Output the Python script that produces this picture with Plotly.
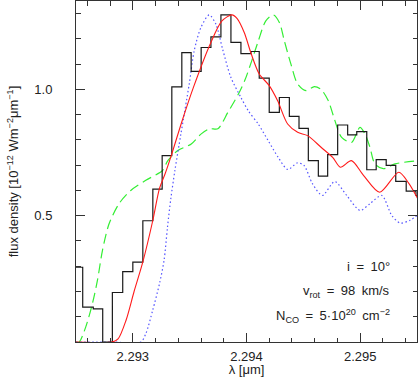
import plotly.graph_objects as go

# ----------------------------------------------------------
# DATA
# ----------------------------------------------------------

# observed spectrum: bin left edges [micron] and flux [1e-12 W m^-2 um^-1]
obs_edges = [
    2.292472, 2.292559, 2.292652, 2.292735, 2.292820, 2.292911,
    2.293000, 2.293088, 2.293176, 2.293258, 2.293343, 2.293431,
    2.293513, 2.293601, 2.293687, 2.293775, 2.293863, 2.293951,
    2.294039, 2.294112, 2.294200, 2.294289, 2.294377, 2.294462,
    2.294544, 2.294632, 2.294714, 2.294802, 2.294890, 2.294970,
    2.295058, 2.295141, 2.295229, 2.295313, 2.295405, 2.295491,
    2.295580,
]
obs_flux = [
    0.296, 0.138, 0.131, 0.000, 0.196, 0.279,
    0.316, 0.480, 0.605, 0.738, 1.010, 1.146,
    1.071, 1.166, 1.208, 1.295, 1.186, 1.142,
    1.150, 1.045, 0.909, 0.968, 0.893, 0.846,
    0.718, 0.657, 0.742, 0.859, 0.820, 0.833,
    0.682, 0.722, 0.699, 0.636, 0.597, 0.580,
    0.580,
]

# model, i = 10 deg (red, solid)
red_wave = [
    2.292500, 2.292817, 2.292870, 2.292941, 2.293011, 2.293088,
    2.293176, 2.293234, 2.293284, 2.293343, 2.293434, 2.293533,
    2.293681, 2.293784, 2.293872, 2.293918, 2.293980, 2.294042,
    2.294112, 2.294200, 2.294274, 2.294362, 2.294450, 2.294538,
    2.294656, 2.294758, 2.294826, 2.294923, 2.295029, 2.295172,
    2.295340, 2.295425, 2.295507,
]
red_flux = [
    0.000, 0.000, 0.012, 0.087, 0.200, 0.317,
    0.482, 0.607, 0.666, 0.745, 0.876, 1.008,
    1.180, 1.271, 1.295, 1.280, 1.225, 1.140,
    1.061, 1.015, 0.955, 0.863, 0.830, 0.817,
    0.771, 0.731, 0.692, 0.718, 0.660, 0.593,
    0.672, 0.630, 0.567,
]

# comparison model (green, dashed)
green_wave = [
    2.292500, 2.292528, 2.292586, 2.292645, 2.292689, 2.292733,
    2.292791, 2.292879, 2.292982, 2.293114, 2.293261, 2.293308,
    2.293396, 2.293514, 2.293602, 2.293675, 2.293748, 2.293836,
    2.293929, 2.293987, 2.294046, 2.294104, 2.294170, 2.294236,
    2.294289, 2.294333, 2.294391, 2.294450, 2.294523, 2.294597,
    2.294656, 2.294720, 2.294764, 2.294837, 2.294925, 2.294998,
    2.295042, 2.295086, 2.295130, 2.295204, 2.295306, 2.295510,
]
green_flux = [
    0.000, 0.000, 0.060, 0.153, 0.245, 0.363,
    0.468, 0.548, 0.600, 0.640, 0.679, 0.718,
    0.758, 0.784, 0.824, 0.844, 0.844, 0.909,
    0.982, 1.038, 1.113, 1.192, 1.271, 1.295,
    1.265, 1.192, 1.100, 1.021, 0.995, 1.011,
    1.000, 0.955, 0.896, 0.810, 0.790, 0.850,
    0.824, 0.771, 0.705, 0.686, 0.705, 0.718,
]

# comparison model (blue, dotted)
blue_wave = [
    2.292500, 2.292817, 2.293070, 2.293115, 2.293175, 2.293235,
    2.293275, 2.293305, 2.293334, 2.293370, 2.293423, 2.293496,
    2.293540, 2.293599, 2.293672, 2.293731, 2.293790, 2.293863,
    2.293951, 2.294015, 2.294103, 2.294191, 2.294279, 2.294363,
    2.294448, 2.294506, 2.294580, 2.294668, 2.294776, 2.294882,
    2.294999, 2.295087, 2.295190, 2.295278, 2.295351, 2.295439,
    2.295518,
]
blue_flux = [
    0.000, 0.000, 0.000, 0.034, 0.126, 0.232,
    0.324, 0.455, 0.567, 0.679, 0.824, 1.021,
    1.153, 1.245, 1.295, 1.258, 1.159, 1.047,
    0.968, 0.916, 0.863, 0.797, 0.731, 0.683,
    0.709, 0.699, 0.627, 0.580, 0.635, 0.580,
    0.521, 0.548, 0.580, 0.501, 0.471, 0.482,
    0.508,
]

x_ticks = [2.293, 2.294, 2.295]
x_tick_text = ["2.293", "2.294", "2.295"]
y_ticks = [0.5, 1.0]
y_tick_text = ["0.5", "1.0"]

param_lines = [
    "i\u2002=\u200210°",
    "v<sub>rot</sub>\u2002=\u200298\u2002km/s",
    "N<sub>CO</sub>\u2002=\u20025·10<sup>20</sup>\u2002cm<sup>−2</sup>",
]
param_y = [0.222, 0.148, 0.077]

FONT = "Liberation Sans, Arial, Helvetica, sans-serif"
INK = "#222222"

# ----------------------------------------------------------
# FIGURE
# ----------------------------------------------------------

fig = go.Figure()

fig.add_trace(
    go.Scatter(
        x=green_wave,
        y=green_flux,
        mode="lines",
        line=dict(color="#33ee33", width=1.2, dash="10px,5px", shape="spline", smoothing=0.8),
    )
)

fig.add_trace(
    go.Scatter(
        x=blue_wave,
        y=blue_flux,
        mode="lines",
        line=dict(color="#5555ff", width=1.2, dash="1.5px,2.5px", shape="spline", smoothing=0.8),
    )
)

fig.add_trace(
    go.Scatter(
        x=obs_edges,
        y=obs_flux,
        mode="lines",
        line=dict(color="#1a1a1a", width=1.2, shape="hv"),
    )
)

fig.add_trace(
    go.Scatter(
        x=red_wave,
        y=red_flux,
        mode="lines",
        line=dict(color="#ff1a1a", width=1.1, shape="spline", smoothing=0.8),
    )
)

for txt, yy in zip(param_lines, param_y):
    fig.add_annotation(
        x=0.927,
        y=yy,
        xref="paper",
        yref="paper",
        xanchor="right",
        yanchor="middle",
        text=txt,
        showarrow=False,
        font=dict(family=FONT, size=13, color=INK),
    )

axis_common = dict(
    showline=True,
    linecolor="#333333",
    linewidth=1,
    mirror="ticks",
    ticks="inside",
    tickcolor="#333333",
    ticklen=9,
    tickwidth=1,
    showgrid=False,
    zeroline=False,
    tickfont=dict(family=FONT, size=13, color=INK),
)

fig.update_layout(
    width=418,
    height=377,
    margin=dict(l=76, r=1, t=1, b=35),
    paper_bgcolor="white",
    plot_bgcolor="white",
    showlegend=False,
    font=dict(family=FONT, size=13, color=INK),
    xaxis=dict(
        range=[2.2925, 2.2955],
        tickmode="array",
        tickvals=x_ticks,
        ticktext=x_tick_text,
        ticklabelstandoff=2,
        minor=dict(tickmode="linear", tick0=2.293, dtick=0.0002, ticklen=4.5,
                   tickcolor="#333333", ticks="inside"),
        title=dict(text="λ [μm]", standoff=3, font=dict(family=FONT, size=13, color=INK)),
        **axis_common,
    ),
    yaxis=dict(
        range=[0, 1.35],
        tickmode="array",
        tickvals=y_ticks,
        ticktext=y_tick_text,
        ticklabelstandoff=20,
        minor=dict(tickmode="linear", tick0=0, dtick=0.1, ticklen=4.5,
                   tickcolor="#333333", ticks="inside"),
        title=dict(
            text="flux density [10<sup>−12</sup> Wm<sup>−2</sup>μm<sup>−1</sup>]",
            standoff=12,
            font=dict(family=FONT, size=13, color=INK),
        ),
        **axis_common,
    ),
)

# the page body has a default 8px margin; remove it so the figure sits at (0, 0)
fig.write_html(
    "out.html",
    config={"displayModeBar": False},
    post_script="document.body.style.margin='0px';",
)
